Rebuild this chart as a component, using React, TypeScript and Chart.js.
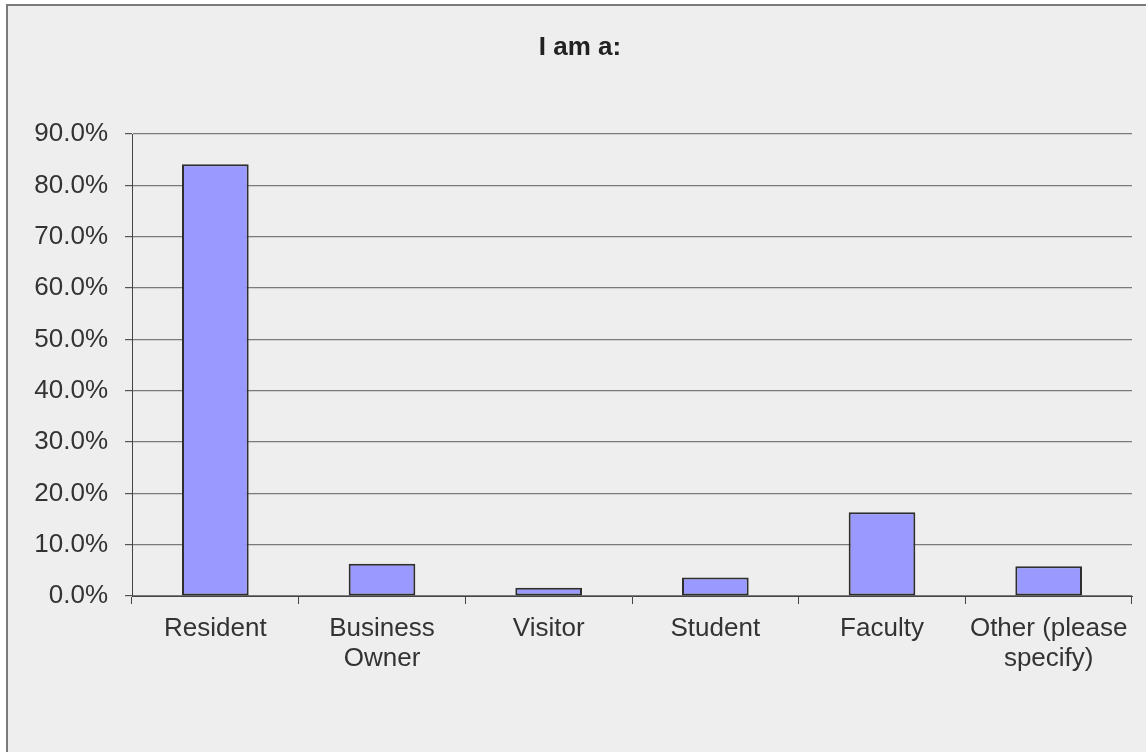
import { useEffect, useRef } from 'react';
import { Chart, registerables } from 'chart.js';

Chart.register(...registerables);

const chartTitle = 'I am a:';
const categories: (string | string[])[] = [
  'Resident',
  ['Business', 'Owner'],
  'Visitor',
  'Student',
  'Faculty',
  ['Other (please', 'specify)'],
];
const percentValues = [84.1, 6.3, 1.6, 3.6, 16.3, 5.8];
const yMin = 0;
const yMax = 90;
const yStep = 10;

export default function App() {
  const ref = useRef<HTMLCanvasElement>(null);

  useEffect(() => {
    if (!ref.current) return;
    const chart = new Chart(ref.current, {
      type: 'bar',
      data: {
        labels: categories,
        datasets: [
          {
            data: percentValues,
            backgroundColor: '#9999ff',
            borderColor: '#2e2e2e',
            borderWidth: 2,
            borderSkipped: false,
            barPercentage: 0.4,
            categoryPercentage: 1,
          },
        ],
      },
      options: {
        animation: false,
        responsive: false,
        maintainAspectRatio: false,
        layout: { padding: { left: 28, right: 14, top: 0, bottom: 0 } },
        plugins: {
          legend: { display: false },
          tooltip: { enabled: false },
          title: {
            display: true,
            text: chartTitle,
            color: '#222222',
            font: { family: "'Liberation Sans Narrow', 'Liberation Sans', Arial, sans-serif", size: 26, weight: 'bold', lineHeight: 1.2 },
            padding: { top: 32.4, bottom: 70.4 },
          },
        },
        scales: {
          x: {
            offset: true,
            grid: {
              display: true,
              offset: true,
              drawOnChartArea: false,
              drawTicks: true,
              tickLength: 8,
              color: '#444444',
              lineWidth: 1,
            },
            border: { display: true, color: '#444444', width: 1 },
            ticks: {
              color: '#333333',
              padding: 10,
              maxRotation: 0,
              autoSkip: false,
              font: { family: "'Liberation Sans', Arial, sans-serif", size: 26, lineHeight: 1.15 },
            },
            afterFit: (s: any) => {
              s.height = 156;
            },
          },
          y: {
            min: yMin,
            max: yMax,
            grid: {
              color: '#7a7a7a',
              lineWidth: 1.2,
              drawTicks: true,
              tickLength: 7,
              tickColor: '#555555',
            },
            border: { display: true, color: '#444444', width: 1 },
            ticks: {
              stepSize: yStep,
              color: '#333333',
              padding: 17,
              font: { family: "'Liberation Sans', Arial, sans-serif", size: 26 },
              callback: (v: any) => Number(v).toFixed(1) + '%',
            },
            afterFit: (s: any) => {
              s.width = 104;
            },
          },
        },
      },
    });
    return () => chart.destroy();
  }, []);

  return (
    <div
      style={{
        position: 'fixed',
        left: 0,
        top: 0,
        width: 1146,
        height: 752,
        background: '#ffffff',
        overflow: 'hidden',
      }}
    >
      <div
        style={{
          position: 'absolute',
          left: 6,
          top: 4,
          right: -10,
          bottom: -10,
          background: '#eeeeee',
          borderTop: '2px solid #7a7a7a',
          borderLeft: '2px solid #7a7a7a',
        }}
      />
      <canvas
        ref={ref}
        width={1146}
        height={752}
        style={{ position: 'absolute', left: 0, top: 0, width: 1146, height: 752 }}
      />
    </div>
  );
}
